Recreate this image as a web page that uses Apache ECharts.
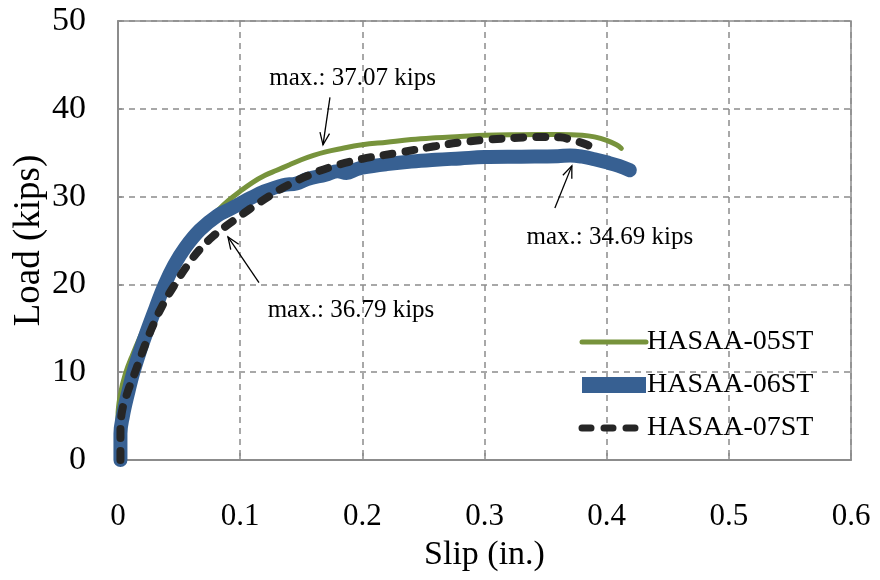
<!DOCTYPE html>
<html>
<head>
<meta charset="utf-8">
<script src="https://cdn.jsdelivr.net/npm/echarts@6/dist/echarts.min.js"></script>
<style>
  html, body { margin: 0; padding: 0; background: #fff; }
  #chart { width: 880px; height: 580px; }
</style>
</head>
<body>
<div id="chart"></div>
<script>
const FONT = '"Liberation Serif", "Times New Roman", serif'

// series names
const names = ['HASAA-05ST', 'HASAA-06ST', 'HASAA-07ST']

// slip (in.) / load (kips)
const curve05 = [
  [0, 0], [0, 5], [0.002, 7.5], [0.006, 9.8], [0.012, 12], [0.02, 14.6], [0.03, 17.8],
  [0.04, 20.7], [0.05, 23.1], [0.06, 25.1], [0.07, 26.8], [0.08, 28.2], [0.09, 29.5],
  [0.1, 30.6], [0.11, 31.6], [0.12, 32.4], [0.13, 33.0], [0.14, 33.6],
  [0.15, 34.2], [0.16, 34.7], [0.17, 35.1], [0.18, 35.4], [0.2, 35.9], [0.22, 36.2],
  [0.24, 36.5], [0.26, 36.7], [0.28, 36.85], [0.3, 37.0], [0.33, 37.05], [0.36, 37.07],
  [0.38, 37.0], [0.39, 36.8], [0.4, 36.4], [0.408, 35.9], [0.412, 35.5]
]
const curve06 = [
  [0.002, 0], [0.002, 3], [0.004, 5], [0.008, 7.5], [0.0126, 10], [0.018, 12.4],
  [0.024, 14.8], [0.031, 17.4], [0.038, 19.9], [0.046, 22.2], [0.055, 24.2], [0.067, 26.2],
  [0.081, 27.8], [0.092, 28.6], [0.1, 29.2], [0.108, 29.8], [0.12, 30.6], [0.135, 31.3],
  [0.146, 31.5], [0.155, 32.0], [0.17, 32.5], [0.18, 32.9], [0.187, 32.7], [0.195, 33.1],
  [0.2, 33.3], [0.22, 33.7], [0.24, 34.0], [0.26, 34.2], [0.28, 34.35], [0.3, 34.5],
  [0.33, 34.55], [0.36, 34.6], [0.37, 34.69], [0.38, 34.55], [0.39, 34.25], [0.4, 33.9],
  [0.41, 33.5], [0.419, 33.0]
]
const curve07 = [
  [0.002, 0], [0.002, 3], [0.003, 5.3], [0.008, 7.8], [0.014, 10], [0.02, 12.3],
  [0.027, 14.8], [0.036, 17.5], [0.047, 20.1], [0.057, 22.2], [0.067, 24.0], [0.078, 25.5],
  [0.089, 26.7], [0.1, 27.8], [0.108, 28.6], [0.12, 29.7], [0.135, 31.0], [0.154, 32.3],
  [0.175, 33.4], [0.2, 34.3], [0.23, 35.0], [0.258, 35.7], [0.282, 36.2], [0.304, 36.5],
  [0.334, 36.75], [0.35, 36.79], [0.362, 36.75], [0.37, 36.5], [0.384, 35.9],
  [0.39, 35.3], [0.392, 35.0]
]

// annotations: text, text centre, arrow tail, arrow head (data units)
const annText = ['max.: 37.07 kips', 'max.: 34.69 kips', 'max.: 36.79 kips']
const annAt = [[0.192, 43.5], [0.4026, 25.4], [0.1907, 17.0]]
const annTail = [[0.1735, 41.3], [0.3576, 28.7], [0.1154, 20.2]]
const annHead = [[0.1678, 35.9], [0.3715, 33.5], [0.090, 25.4]]

const chart = echarts.init(document.getElementById('chart'))

const gridLine = { show: true, lineStyle: { color: '#8c8c8c', width: 1.5, type: [6, 5] } }
const axisLine = { show: true, lineStyle: { color: '#8c8c8c', width: 2 } }

chart.setOption({
  backgroundColor: '#fff',
  animation: false,
  textStyle: { fontFamily: FONT },
  grid: {
    left: 118, right: 29, top: 21, bottom: 120,
    containLabel: false,
    outerBoundsMode: 'none',
    show: true,
    borderColor: '#8c8c8c',
    borderWidth: 1.5
  },
  legend: {
    orient: 'vertical',
    left: 574,
    top: 328,
    padding: 0,
    itemGap: 15,
    itemWidth: 64,
    itemHeight: 16,
    selectedMode: false,
    textStyle: { fontFamily: FONT, fontSize: 28, color: '#000', padding: [0, 0, 0, -4] },
    data: [
      { name: names[0], itemStyle: { opacity: 0 }, lineStyle: { width: 5, cap: 'round' } },
      { name: names[1], itemStyle: { opacity: 0 }, lineStyle: { width: 16, cap: 'butt' } },
      { name: names[2], itemStyle: { opacity: 0 }, lineStyle: { width: 7, cap: 'round', type: [9, 13] } }
    ]
  },
  xAxis: {
    type: 'value',
    min: 0,
    max: 0.6,
    interval: 0.1,
    name: 'Slip (in.)',
    nameLocation: 'middle',
    nameGap: 78,
    nameMoveOverlap: false,
    nameTextStyle: { fontFamily: FONT, fontSize: 34, color: '#000' },
    axisLine: axisLine,
    axisTick: { show: true, inside: true, length: 7, lineStyle: { color: '#8c8c8c', width: 1.5 } },
    axisLabel: { fontFamily: FONT, fontSize: 31, color: '#000', margin: 41 },
    splitLine: gridLine
  },
  yAxis: {
    type: 'value',
    min: 0,
    max: 50,
    interval: 10,
    name: 'Load (kips)',
    nameLocation: 'middle',
    nameGap: 70,
    nameMoveOverlap: false,
    nameTextStyle: { fontFamily: FONT, fontSize: 37, color: '#000' },
    axisLine: axisLine,
    axisTick: { show: true, inside: true, length: 4, lineStyle: { color: '#8c8c8c', width: 1.5 } },
    axisLabel: { fontFamily: FONT, fontSize: 34, color: '#000', margin: 32 },
    splitLine: gridLine
  },
  series: [
    {
      name: names[0],
      type: 'line',
      data: curve05,
      showSymbol: false,
      symbol: 'none',
      smooth: 0.4,
      color: '#77933c',
      lineStyle: { width: 5, color: '#77933c', cap: 'round', join: 'round' },
      z: 2
    },
    {
      name: names[1],
      type: 'line',
      data: curve06,
      showSymbol: false,
      symbol: 'none',
      smooth: 0.4,
      color: '#376092',
      lineStyle: { width: 14, color: '#376092', cap: 'round', join: 'round' },
      z: 3
    },
    {
      name: names[2],
      type: 'line',
      data: curve07,
      showSymbol: false,
      symbol: 'none',
      smooth: 0.4,
      color: '#262626',
      lineStyle: { width: 8, color: '#262626', type: [9, 13], cap: 'round', join: 'round' },
      z: 4
    }
  ]
})

// arrows and labels placed through the chart's own scales
function arrowGraphics() {
  const out = []
  for (let i = 0; i < annText.length; i++) {
    const t = chart.convertToPixel({ gridIndex: 0 }, annTail[i])
    const h = chart.convertToPixel({ gridIndex: 0 }, annHead[i])
    const c = chart.convertToPixel({ gridIndex: 0 }, annAt[i])
    const ang = Math.atan2(t[1] - h[1], t[0] - h[0])
    const len = 13
    const spread = 0.38
    const p1 = [h[0] + len * Math.cos(ang + spread), h[1] + len * Math.sin(ang + spread)]
    const p2 = [h[0] + len * Math.cos(ang - spread), h[1] + len * Math.sin(ang - spread)]
    out.push({
      type: 'line',
      z: 100,
      shape: { x1: t[0], y1: t[1], x2: h[0], y2: h[1] },
      style: { stroke: '#000', lineWidth: 1.3 }
    })
    out.push({
      type: 'polyline',
      z: 100,
      shape: { points: [p1, h, p2] },
      style: { stroke: '#000', lineWidth: 1.3, fill: null }
    })
    out.push({
      type: 'text',
      z: 100,
      x: c[0],
      y: c[1],
      style: {
        text: annText[i],
        fontFamily: FONT,
        fontSize: 25,
        fill: '#000',
        align: 'center',
        verticalAlign: 'middle'
      }
    })
  }
  return out
}

chart.setOption({ graphic: arrowGraphics() })
</script>
</body>
</html>
